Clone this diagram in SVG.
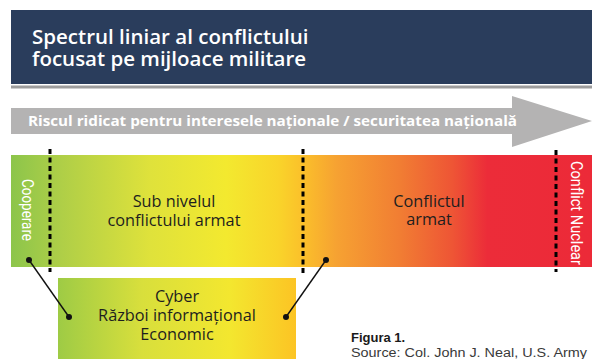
<svg xmlns="http://www.w3.org/2000/svg" width="592" height="359" viewBox="0 0 592 359">
<defs>
<linearGradient id="spec" x1="11" y1="0" x2="592" y2="0" gradientUnits="userSpaceOnUse">
<stop offset="0" stop-color="#8cc54b"/>
<stop offset="0.09" stop-color="#b0cf47"/>
<stop offset="0.24" stop-color="#dfe23b"/>
<stop offset="0.37" stop-color="#f3e92f"/>
<stop offset="0.46" stop-color="#f9d42a"/>
<stop offset="0.50" stop-color="#fbc12a"/>
<stop offset="0.56" stop-color="#f6a232"/>
<stop offset="0.67" stop-color="#f17d33"/>
<stop offset="0.76" stop-color="#ee5535"/>
<stop offset="0.82" stop-color="#ec2c39"/>
<stop offset="1" stop-color="#ec2a38"/>
</linearGradient>
<linearGradient id="boxg" x1="58" y1="0" x2="296" y2="0" gradientUnits="userSpaceOnUse">
<stop offset="0" stop-color="#9ecb45"/>
<stop offset="0.35" stop-color="#d8df3c"/>
<stop offset="0.72" stop-color="#f3e72f"/>
<stop offset="1" stop-color="#fcc424"/>
</linearGradient>
<style>
.title{font-family:"Open Sans","Liberation Sans",sans-serif;font-weight:600;font-size:20.5px;fill:#ffffff}
.risk{font-family:"Open Sans","Liberation Sans",sans-serif;font-weight:700;font-size:13.5px;fill:#ffffff}
.lab{font-family:"Open Sans","Liberation Sans",sans-serif;font-size:16.3px;fill:#1e1e1e;text-anchor:middle}
.vert{font-family:"Roboto","Liberation Sans",sans-serif;font-size:17px;fill:#ffffff}
.dash{stroke:#000;stroke-width:3;stroke-dasharray:5 3.5;fill:none}
.conn{stroke:#111;stroke-width:1.4;fill:none}
.dot{fill:#111}
.cap{font-family:"Liberation Sans",Arial,sans-serif}
</style>
</defs>
<g id="header">
<rect x="11" y="10" width="581" height="74" fill="#2a3d5c"/>
<rect x="11" y="85.5" width="581" height="3" fill="#9d9d9d"/>
<text class="title" x="32" y="44">Spectrul liniar al conflictului</text>
<text class="title" x="32" y="66">focusat pe mijloace militare</text>
</g>
<g id="risk-arrow">
<polygon points="11,108 512,108 512,96 592,121 512,147 512,134 11,134" fill="#b4b3b3"/>
<text class="risk" x="28" y="126" textLength="489" lengthAdjust="spacingAndGlyphs">Riscul ridicat pentru interesele naționale / securitatea națională</text>
</g>
<g id="spectrum">
<rect x="11" y="155" width="581" height="112" fill="url(#spec)"/>
</g>
<g id="cooperare">
<text class="vert" transform="translate(22,179) rotate(90)" textLength="62" lengthAdjust="spacingAndGlyphs">Cooperare</text>
</g>
<g id="sub-nivel">
<text class="lab" x="174" y="207">Sub nivelul</text>
<text class="lab" x="174" y="226">conflictului armat</text>
</g>
<g id="conflict-armat">
<text class="lab" x="429" y="207">Conflictul</text>
<text class="lab" x="429" y="225">armat</text>
</g>
<g id="conflict-nuclear">
<text class="vert" transform="translate(571,161) rotate(90)" textLength="104" lengthAdjust="spacingAndGlyphs">Conflict Nuclear</text>
</g>
<g id="hybrid-box">
<rect x="58" y="278" width="238" height="81" fill="url(#boxg)"/>
<text class="lab" x="177" y="302">Cyber</text>
<text class="lab" x="177" y="321">Război informațional</text>
<text class="lab" x="177" y="340">Economic</text>
</g>
<g id="boundaries">
<line class="dash" x1="50" y1="149" x2="50" y2="272"/>
<line class="dash" x1="303" y1="149" x2="303" y2="273"/>
<line class="dash" x1="556" y1="150" x2="556" y2="272"/>
</g>
<g id="connectors">
<line class="conn" x1="29" y1="260" x2="69" y2="317"/>
<circle class="dot" cx="29" cy="260" r="3"/>
<circle class="dot" cx="69" cy="317" r="3"/>
<line class="conn" x1="326" y1="260" x2="286" y2="317"/>
<circle class="dot" cx="326" cy="260" r="3"/>
<circle class="dot" cx="286" cy="317" r="3"/>
</g>
<g id="caption">
<text class="cap" x="351" y="342" font-size="13" font-weight="700" fill="#1a1a1a">Figura 1.</text>
<text class="cap" x="351" y="357" font-size="12.5" fill="#3a3a3a" textLength="236" lengthAdjust="spacingAndGlyphs">Source: Col. John J. Neal, U.S. Army</text>
</g>
</svg>
